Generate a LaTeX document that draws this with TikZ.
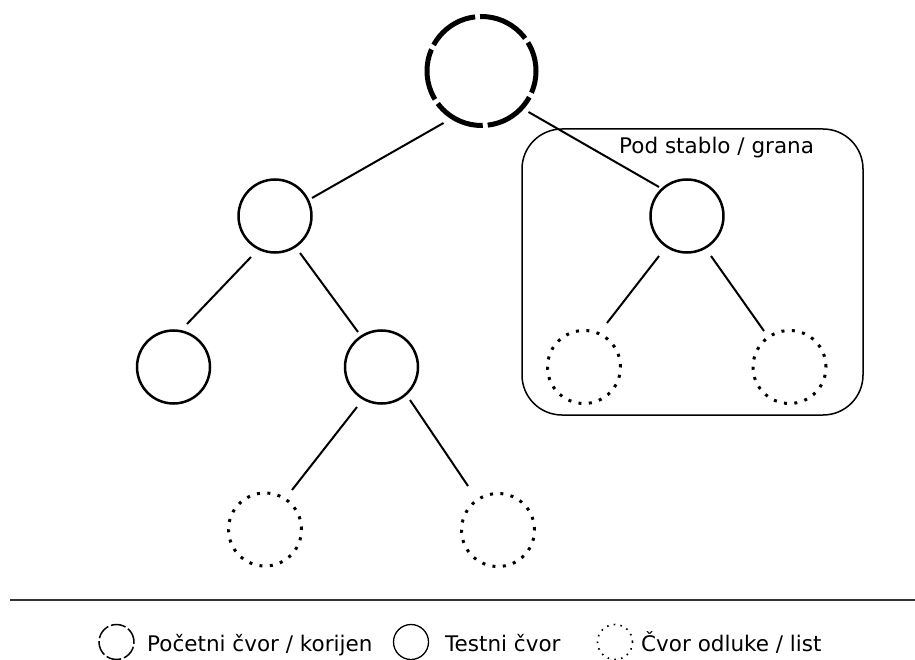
\documentclass[tikz,border=0pt]{standalone}
\usepackage{fontspec}
\setmainfont{DejaVu Sans}
\usetikzlibrary{calc}
\tikzset{
  rootnode/.style={circle, draw, inner sep=0pt, minimum size=109pt, line width=5pt, dash pattern=on 52pt off 5pt, dash phase=22pt},
  testnode/.style={circle, draw, inner sep=0pt, minimum size=73pt, line width=2.5pt},
  leafnode/.style={circle, draw, inner sep=0pt, minimum size=73pt, line width=3pt, dash pattern=on 3pt off 7.4pt},
  edge/.style={line width=2pt},
  lroot/.style={circle, draw, inner sep=0pt, minimum size=35pt, line width=1.5pt, dash pattern=on 15pt off 3pt},
  ltest/.style={circle, draw, inner sep=0pt, minimum size=35pt, line width=1.3pt},
  lleaf/.style={circle, draw, inner sep=0pt, minimum size=35pt, line width=1.6pt, dash pattern=on 1.6pt off 5.2pt},
  lbl/.style={font=\fontsize{21.5pt}{25pt}\selectfont, anchor=base west, inner sep=0pt},
}
\begin{document}
\begin{tikzpicture}[x=1pt, y=-1pt]
\useasboundingbox (0,0) rectangle (915,660);
% subtree box
\draw[line width=1.5pt, rounded corners=40pt] (522,129) rectangle (863,415);
\node[lbl] (sub) at (619,154) {Pod stablo / grana};
% nodes
\node[rootnode] (R) at (481.5,71) {};
\node[testnode] (A) at (275,216) {};
\node[testnode] (B) at (687,216) {};
\node[testnode] (C) at (173.5,367) {};
\node[testnode] (D) at (381.5,367) {};
\node[leafnode] (E) at (584,367) {};
\node[leafnode] (F) at (789.5,367) {};
\node[leafnode] (G) at (265,529.5) {};
\node[leafnode] (H) at (498,530) {};
% edges
\draw[edge] ($(R)+(-38,52)$) -- ($(A)+(37,-18)$);
\draw[edge] ($(R)+(47,41)$) -- ($(B)+(-28,-29)$);
\draw[edge] ($(A)+(-24,41)$) -- ($(C)+(13.5,-43)$);
\draw[edge] ($(A)+(25,37)$) -- ($(D)+(-23.5,-35)$);
\draw[edge] ($(D)+(-24.5,40)$) -- ($(G)+(27,-39.5)$);
\draw[edge] ($(D)+(28.5,33)$) -- ($(H)+(-30,-44)$);
\draw[edge] ($(B)+(-28,40)$) -- ($(E)+(23,-44)$);
\draw[edge] ($(B)+(24,40)$) -- ($(F)+(-25.5,-36)$);
% legend
\coordinate (l1) at (10,600);
\coordinate (l2) at (915,600);
\draw[line width=2.5pt, black!80] (l1) -- (l2);
\node[lroot] (k1) at (116.5,642) {};
\node[lbl] (t1) at (147,651) {Početni čvor / korijen};
\node[ltest] (k2) at (411,642) {};
\node[lbl] (t2) at (445,651) {Testni čvor};
\node[lleaf] (k3) at (615,642) {};
\node[lbl] (t3) at (641,651) {Čvor odluke / list};
\end{tikzpicture}
\end{document}
